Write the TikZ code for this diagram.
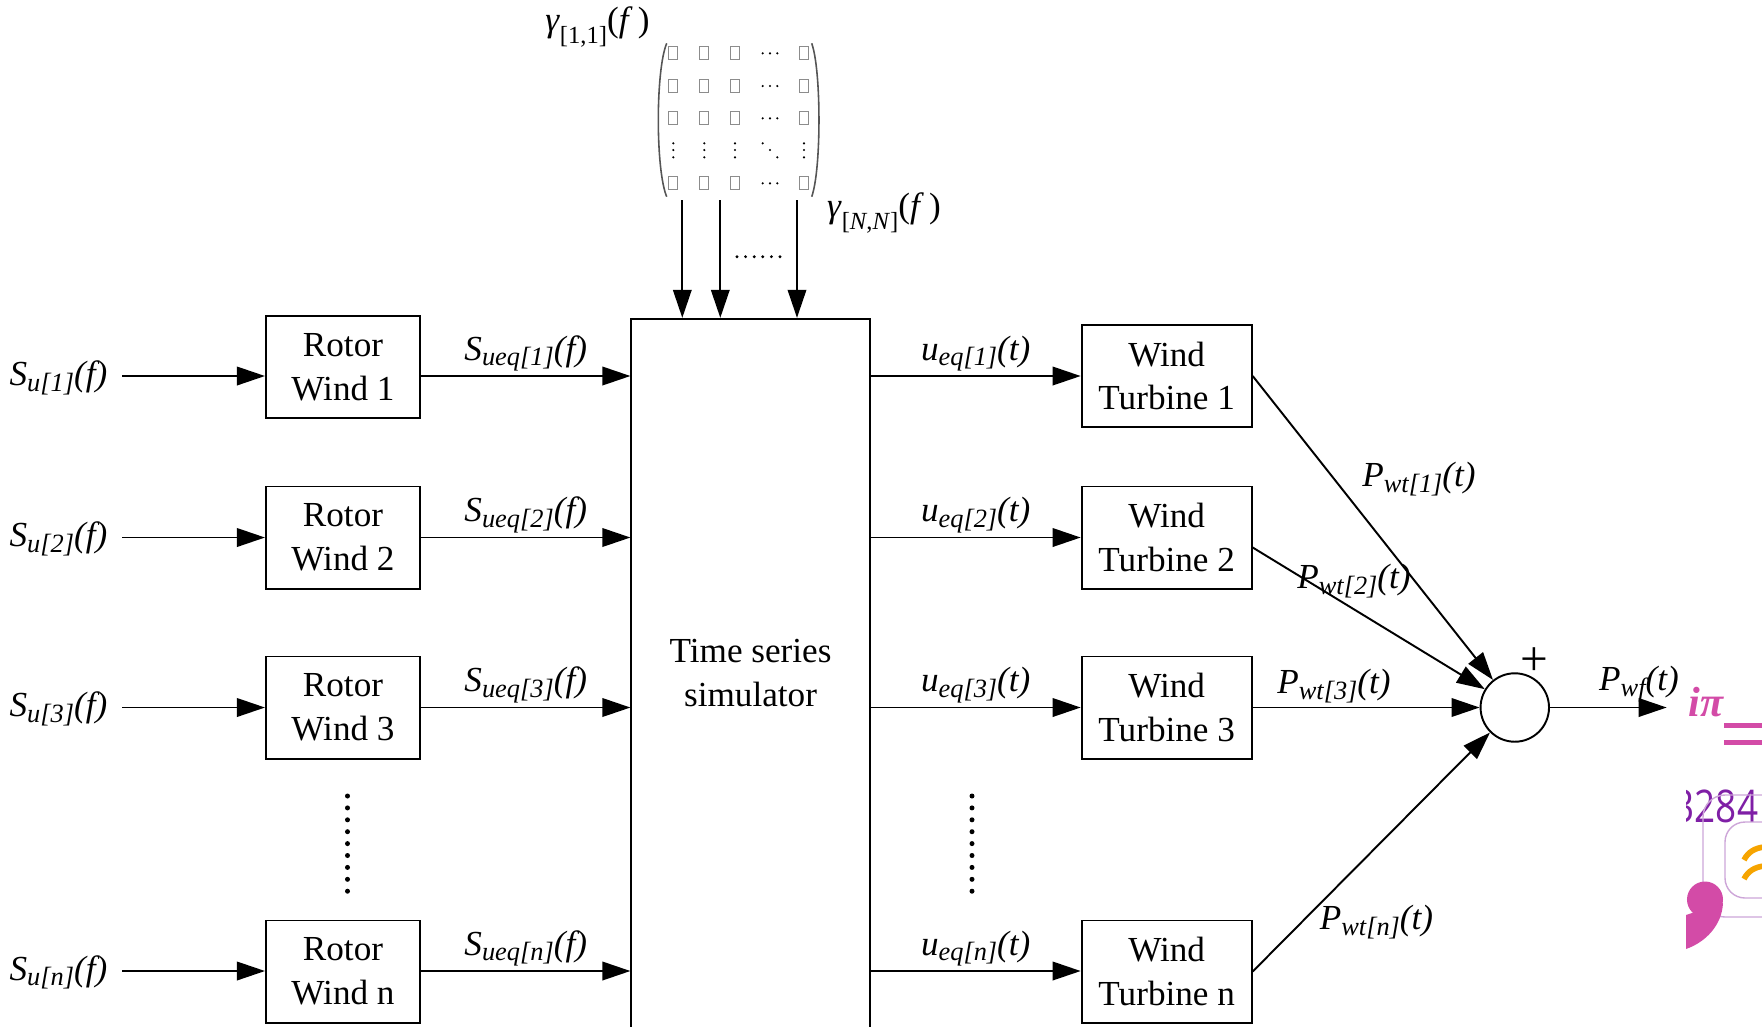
\documentclass[tikz,border=0pt]{standalone}
\usepackage{fontspec}
\setmainfont{Liberation Serif}
\newfontfamily\wmfont[FakeStretch=0.82]{Open Sans}
\usetikzlibrary{arrows.meta,calc}

\definecolor{matgrey}{HTML}{8C8C8C}
\definecolor{parengrey}{HTML}{555555}
\definecolor{wmpink}{HTML}{D34BA7}
\definecolor{wmpurple}{HTML}{7F1FA6}
\definecolor{wmline}{HTML}{CDA6D8}
\definecolor{wmorange}{HTML}{F6A400}

% signal label: italic symbol, lowered small subscript, italic argument
\newcommand{\sig}[3]{\textit{#1}\raisebox{-0.16em}{\fontsize{7.5}{8}\selectfont\itshape #2}\textit{#3}}
% coherence label gamma_{...}(f)
\newcommand{\gam}[1]{\textit{γ}\raisebox{-0.35em}{\fontsize{7}{8}\selectfont #1}(\textit{f}\kern1.5pt)}

\begin{document}
\begin{tikzpicture}[x=0.01cm,y=-0.01cm,
  every node/.style={font=\fontsize{10}{12.4}\selectfont},
  blk/.style={draw, line width=0.55pt, inner sep=0pt, align=center},
  rotor/.style={blk, minimum width=1.54cm, minimum height=1.02cm},
  turb/.style={blk, minimum width=1.70cm, minimum height=1.02cm},
  arr/.style={line width=0.55pt, -{Triangle[length=2.8mm,width=1.85mm]}},
  lbl/.style={inner sep=0pt},
  entry/.style={draw=matgrey, line width=0.3pt}]

\useasboundingbox (0,0) rectangle (1762,1026);
\clip (0,0) rectangle (1762,1026);

% signal rows
\coordinate (r1) at (0,376);
\coordinate (r2) at (0,537.5);
\coordinate (r3) at (0,707.5);
\coordinate (rn) at (0,971);

% blocks
\node[rotor] (R1) at (343,367)   {Rotor\\Wind 1};
\node[rotor] (R2) at (343,537.5) {Rotor\\Wind 2};
\node[rotor] (R3) at (343,707.5) {Rotor\\Wind 3};
\node[rotor] (Rn) at (343,971.5) {Rotor\\Wind n};

\node[blk, minimum width=2.383cm, minimum height=7.3cm] (sim) at (750.6,684) {};
\node[align=center] (simtxt) at (750.6,673) {Time series\\simulator};

\node[turb] (T1) at (1166.7,376)   {Wind\\Turbine 1};
\node[turb] (T2) at (1166.7,537.5) {Wind\\Turbine 2};
\node[turb] (T3) at (1166.7,707.5) {Wind\\Turbine 3};
\node[turb] (Tn) at (1166.7,971.5) {Wind\\Turbine n};

\node[draw, circle, line width=0.55pt, minimum size=0.684cm, inner sep=0pt] (sum) at (1514.8,707.5) {};
\node[font=\fontsize{14}{14}\selectfont, inner sep=0pt] (plus) at (1534.3,662) {+};

% input spectra
\node[lbl, anchor=east] (su1) at (108,378)   {\sig{S}{u[1]}{(f)}};
\node[lbl, anchor=east] (su2) at (108,539)   {\sig{S}{u[2]}{(f)}};
\node[lbl, anchor=east] (su3) at (108,709)   {\sig{S}{u[3]}{(f)}};
\node[lbl, anchor=east] (sun) at (108,972.5) {\sig{S}{u[n]}{(f)}};

\draw[arr] ($(su1.east |- r1)+(14,0)$) -- (R1.west |- r1);
\draw[arr] ($(su2.east |- r2)+(14,0)$) -- (R2.west |- r2);
\draw[arr] ($(su3.east |- r3)+(14,0)$) -- (R3.west |- r3);
\draw[arr] ($(sun.east |- rn)+(14,0)$) -- (Rn.west |- rn);

% equivalent spectra into the simulator
\draw[arr] (R1.east |- r1) -- node[lbl, midway, yshift=0.225cm] (seq1) {\sig{S}{ueq[1]}{(f)}} (sim.west |- r1);
\draw[arr] (R2.east |- r2) -- node[lbl, midway, yshift=0.225cm] (seq2) {\sig{S}{ueq[2]}{(f)}} (sim.west |- r2);
\draw[arr] (R3.east |- r3) -- node[lbl, midway, yshift=0.225cm] (seq3) {\sig{S}{ueq[3]}{(f)}} (sim.west |- r3);
\draw[arr] (Rn.east |- rn) -- node[lbl, midway, yshift=0.225cm] (seqn) {\sig{S}{ueq[n]}{(f)}} (sim.west |- rn);

% simulated wind speeds
\draw[arr] (sim.east |- r1) -- node[lbl, midway, yshift=0.225cm] (ueq1) {\sig{u}{eq[1]}{(t)}} (T1.west |- r1);
\draw[arr] (sim.east |- r2) -- node[lbl, midway, yshift=0.225cm] (ueq2) {\sig{u}{eq[2]}{(t)}} (T2.west |- r2);
\draw[arr] (sim.east |- r3) -- node[lbl, midway, yshift=0.225cm] (ueq3) {\sig{u}{eq[3]}{(t)}} (T3.west |- r3);
\draw[arr] (sim.east |- rn) -- node[lbl, midway, yshift=0.225cm] (ueqn) {\sig{u}{eq[n]}{(t)}} (Tn.west |- rn);

% turbine powers into the summing junction
\draw[arr] (T1.east) -- (sum);
\draw[arr] ($(T2.east)+(0,10)$) -- (sum);
\draw[arr] (T3.east) -- (sum);
\draw[arr] (Tn.east) -- (sum);

\node[lbl] (pw1) at (1419,479)   {\sig{P}{wt[1]}{(t)}};
\node[lbl] (pw2) at (1354,581)   {\sig{P}{wt[2]}{(t)}};
\node[lbl] (pw3) at (1334,686)   {\sig{P}{wt[3]}{(t)}};
\node[lbl] (pwn) at (1376.5,922) {\sig{P}{wt[n]}{(t)}};

\coordinate (out) at (1666.7,707.5);
\draw[arr] (sum.east) -- (out);
\node[lbl] (pwf) at (1639,684) {\sig{P}{wf}{(t)}};

% ellipses between rows
\foreach \i in {0,...,8} {
  \fill (347.5,796+11.9*\i) circle[radius=0.025cm];
  \fill (972,796+11.9*\i) circle[radius=0.025cm];
}

% coherence matrix
\draw[parengrey, line width=0.45pt] (666.7,43.3) .. controls (655.5,70) and (655.5,170) .. (666.7,196.7);
\draw[parengrey, line width=0.45pt] (811.7,43.3) .. controls (821.4,70) and (821.4,170) .. (811.7,196.7);
\foreach \cx in {673.3,704.3,735,804} {
  \foreach \ry in {53.3,86,118.3,183.3} {
    \draw[entry] (\cx-4.6,\ry-6.6) rectangle (\cx+4.6,\ry+6.6);
  }
  \foreach \dy in {143.3,150,157.3} {
    \fill (\cx,\dy) circle[radius=0.012cm];
  }
}
\foreach \ry in {53.3,86,118.3,183.3} {
  \foreach \dx in {762.7,770,777.3} {
    \fill (\dx,\ry) circle[radius=0.012cm];
  }
}
\fill (762.7,143.3) circle[radius=0.012cm];
\fill (770,150) circle[radius=0.012cm];
\fill (777.3,157.3) circle[radius=0.012cm];

\node[lbl] (g11) at (597.5,27) {\gam{[1,1]}};
\node[lbl] (gNN) at (884,213) {\gam{[\textit{N},\textit{N}]}};

\coordinate (m1) at (682.3,200);
\coordinate (m2) at (720.3,200);
\coordinate (m3) at (797,200);
\draw[arr] (m1) -- (m1 |- sim.north);
\draw[arr] (m2) -- (m2 |- sim.north);
\draw[arr] (m3) -- (m3 |- sim.north);
\foreach \i in {0,...,5} {
  \fill (737+8.6*\i,256.7) circle[radius=0.016cm];
}

% overlaid mark at the right edge
\begin{scope}
  \clip (1686,680) rectangle (1762,1026);
  \node[anchor=base west, inner sep=0pt, text=wmpink,
        font=\fontsize{12}{12}\selectfont\bfseries\itshape] (wmi) at (1688,716) {iπ};
  \fill[wmpink] (1724,723) rectangle (1762,727.5);
  \fill[wmpink] (1724,740) rectangle (1762,744.5);
  \node[anchor=base west, inner sep=0pt, text=wmpurple,
        font=\wmfont\fontsize{12.8}{13}\selectfont] (wmnum) at (1673,822) {3284};
  \draw[wmline, line width=0.4pt, rounded corners=0.22cm] (1703,795) rectangle (1800,917);
  \draw[wmline, line width=0.4pt, rounded corners=0.2cm] (1725,822) rectangle (1800,898);
  \draw[wmorange, line width=1.6pt] (1744,860) .. controls (1748,852) and (1755,848) .. (1764,847);
  \draw[wmorange, line width=1.6pt] (1744,879) .. controls (1748,871) and (1755,867) .. (1764,866);
  \fill[wmpink] (1705,899.5) circle[radius=0.18cm];
  \fill[wmpink] (1686,915) -- (1723,903) .. controls (1722,925) and (1706,942) .. (1686,949) -- cycle;
\end{scope}

\end{tikzpicture}
\end{document}
